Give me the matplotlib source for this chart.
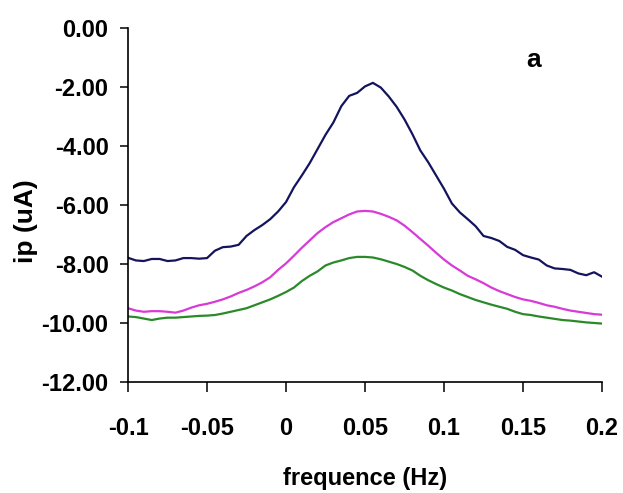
import numpy as np
import matplotlib
matplotlib.use("Agg")
import matplotlib.pyplot as plt

plt.rcParams['font.family'] = ['Liberation Sans', 'DejaVu Sans']
plt.rcParams['font.weight'] = 'bold'

# frequency axis (Hz), sampled every 0.005
freq = np.round(np.arange(-0.1, 0.2001, 0.005), 3)

# peak current (uA)
ip_blue = [-7.79, -7.88, -7.90, -7.83, -7.83, -7.90, -7.88, -7.80, -7.80, -7.82,
           -7.80, -7.55, -7.43, -7.41, -7.35, -7.05, -6.85, -6.68, -6.48, -6.22,
           -5.90, -5.40, -5.00, -4.58, -4.10, -3.62, -3.20, -2.65, -2.30, -2.20,
           -1.98, -1.86, -2.02, -2.32, -2.67, -3.10, -3.60, -4.15, -4.55, -5.00,
           -5.45, -5.95, -6.25, -6.48, -6.72, -7.05, -7.12, -7.22, -7.42, -7.52,
           -7.70, -7.78, -7.85, -8.05, -8.15, -8.17, -8.20, -8.32, -8.38, -8.28,
           -8.43]
ip_magenta = [-9.50, -9.58, -9.62, -9.60, -9.60, -9.62, -9.65, -9.58, -9.48, -9.40,
              -9.35, -9.28, -9.20, -9.10, -8.98, -8.88, -8.76, -8.62, -8.45, -8.20,
              -7.98, -7.72, -7.45, -7.20, -6.95, -6.75, -6.58, -6.45, -6.32, -6.22,
              -6.20, -6.22, -6.30, -6.40, -6.52, -6.70, -6.92, -7.15, -7.38, -7.62,
              -7.85, -8.05, -8.22, -8.40, -8.52, -8.65, -8.80, -8.92, -9.02, -9.12,
              -9.20, -9.25, -9.32, -9.40, -9.45, -9.52, -9.58, -9.62, -9.66, -9.70,
              -9.72]
ip_green = [-9.78, -9.80, -9.85, -9.90, -9.85, -9.82, -9.82, -9.80, -9.78, -9.76,
            -9.75, -9.73, -9.68, -9.62, -9.56, -9.50, -9.40, -9.30, -9.20, -9.08,
            -8.95, -8.80, -8.58, -8.40, -8.25, -8.05, -7.95, -7.88, -7.80, -7.76,
            -7.76, -7.78, -7.84, -7.92, -8.00, -8.10, -8.22, -8.40, -8.55, -8.68,
            -8.80, -8.90, -9.02, -9.12, -9.22, -9.30, -9.38, -9.45, -9.52, -9.62,
            -9.70, -9.73, -9.78, -9.82, -9.86, -9.90, -9.92, -9.95, -9.98, -10.00,
            -10.02]

xticks = [-0.1, -0.05, 0, 0.05, 0.1, 0.15, 0.2]
xticklabels = ['-0.1', '-0.05', '0', '0.05', '0.1', '0.15', '0.2']
yticks = [0, -2, -4, -6, -8, -10, -12]

fig = plt.figure(figsize=(6.23, 4.93), dpi=100)
ax = fig.add_axes([0.2055, 0.2252, 0.7608, 0.718])

ax.plot(freq, ip_green, color='#2a8a2a', lw=1.6)
ax.plot(freq, ip_magenta, color='#d83ad8', lw=1.6)
ax.plot(freq, ip_blue, color='#14145e', lw=1.6)

ax.set_xlim(-0.1, 0.2)
ax.set_ylim(-12, 0)
ax.set_xticks(xticks)
ax.set_xticklabels(xticklabels)
ax.set_yticks(yticks)
ax.set_yticklabels(['%.2f' % v for v in yticks])

for s in ['top', 'right']:
    ax.spines[s].set_visible(False)
for s in ['left', 'bottom']:
    ax.spines[s].set_linewidth(1.2)

ax.tick_params(axis='y', direction='out', length=6, width=1.1, pad=8, labelsize=17)
ax.tick_params(axis='x', direction='out', length=7, width=1.1, pad=18, labelsize=17)

ax.set_xlabel('frequence (Hz)', fontsize=17, fontweight='bold', labelpad=20)
ax.set_ylabel('ip (uA)', fontsize=19, fontweight='bold')
ax.yaxis.set_label_coords(-0.19, 0.455)

ax.text(0.855, 0.91, 'a', transform=ax.transAxes, fontsize=19, fontweight='bold',
        ha='center', va='center')

fig.savefig('out.png', dpi=100)
